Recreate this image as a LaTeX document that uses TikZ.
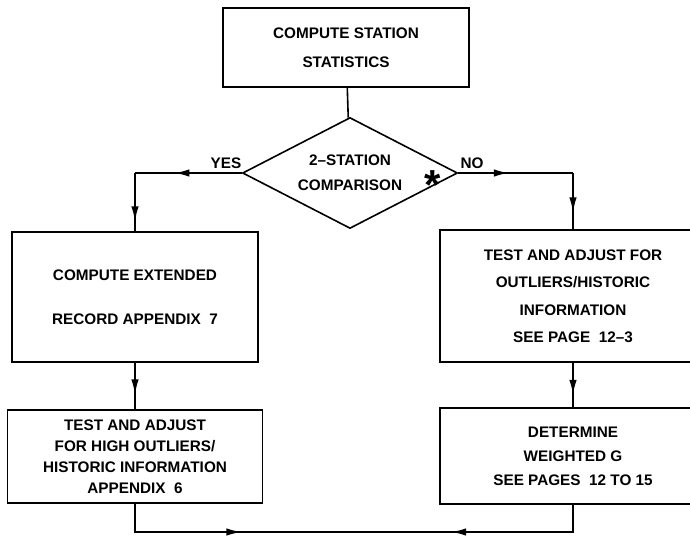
\documentclass[tikz,border=0pt]{standalone}
\usepackage{fontspec}
\setmainfont{Liberation Sans}
\usetikzlibrary{shapes.geometric,arrows.meta,decorations.markings}

\begin{document}
\begin{tikzpicture}[x=1pt, y=-1pt, line width=1.6pt,
    font=\fontsize{15.3}{21}\selectfont\bfseries,
    box/.style={rectangle, draw, align=center, inner sep=0pt},
    decision/.style={diamond, draw, aspect=1.94, align=center, inner sep=0pt},
    midarrow/.style={postaction={decorate}, decoration={markings,
      mark=at position #1 with {\arrow{Latex[length=15pt,width=7.5pt]}}}}]
    \useasboundingbox (0,0) rectangle (690,535);

    \node[box, minimum width=246pt, minimum height=79pt] (A) at (346,47.5) {COMPUTE STATION\\[8pt]STATISTICS};
    \node[decision, minimum width=215pt, minimum height=111pt] (B) at (350,173) {2--STATION\\[4pt]COMPARISON};
    \node[box, minimum width=246pt, minimum height=130pt] (C) at (135,297) {COMPUTE EXTENDED\\[23pt]RECORD APPENDIX~~7};
    \node[box, minimum width=255pt, minimum height=93pt] (D) at (135,456.5) {TEST AND ADJUST\\FOR HIGH OUTLIERS/\\HISTORIC INFORMATION\\APPENDIX~~6};
    \node[box, minimum width=266pt, minimum height=132pt] (E) at (573,296) {TEST AND ADJUST FOR\\[6.5pt]OUTLIERS/HISTORIC\\[6.5pt]INFORMATION\\[6.5pt]SEE PAGE~~12--3};
    \node[box, minimum width=266pt, minimum height=96pt] (F) at (573,456) {DETERMINE\\[3pt]WEIGHTED G\\[3pt]SEE PAGES~~12 TO 15};

    % 曲がり角
    \coordinate (P) at (135,173);
    \coordinate (Q) at (573,173);
    \coordinate (M) at (356,532);

    % 線を引く
    \draw (A) -- (B);
    \draw[midarrow=0.63] (B.west) -- (P);
    \draw[midarrow=0.83] (P) -- (C.north);
    \draw[midarrow=0.68] (C.south) -- (D.north);
    \draw[midarrow=0.44] (B.east) -- (Q);
    \draw[midarrow=0.7] (Q) -- (E.north);
    \draw[midarrow=0.72] (E.south) -- (F.north);
    \draw[midarrow=0.54] (D.south) |- (M);
    \draw[midarrow=0.61] (F.south) |- (M);

    % ラベル
    \node (G) at (226,163) {YES};
    \node (H) at (472,163) {NO};
    \node[font=\fontsize{42}{42}\selectfont\bfseries, inner sep=0pt] (I) at (433,185) {*};

\end{tikzpicture}
\end{document}
